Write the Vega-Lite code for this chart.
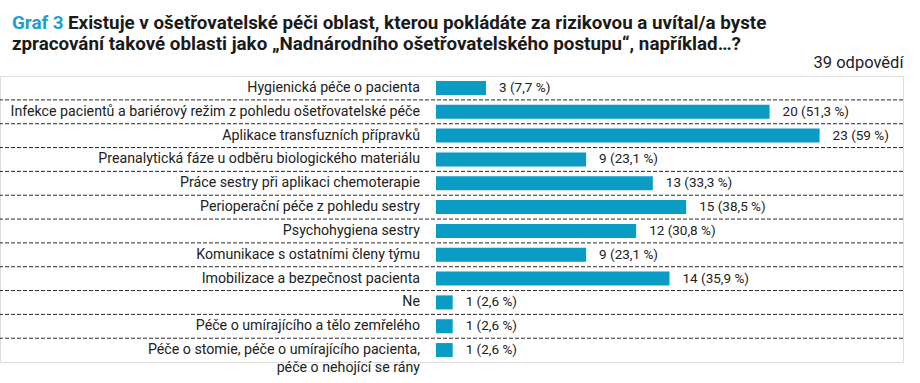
{
  "$schema": "https://vega.github.io/schema/vega-lite/v6.json",
  "autosize": "none",
  "width": 903,
  "height": 286,
  "padding": {"left": 0, "top": 76, "right": 17, "bottom": 21},
  "background": "white",
  "title": {
    "text": ["\u200b\u00a0\u00a0\u00a0\u00a0\u00a0\u00a0\u00a0\u00a0\u00a0\u00a0\u00a0\u00a0Existuje v ošetřovatelské péči oblast, kterou pokládáte za rizikovou a uvítal/a byste", "zpracování takové oblasti jako „Nadnárodního ošetřovatelského postupu“, například…?"],
    "subtitle": "Graf 3",
    "anchor": "start",
    "frame": "group",
    "dx": 12,
    "offset": 0,
    "font": "Roboto",
    "fontSize": 18.8,
    "fontWeight": "bold",
    "color": "#1a1a1a",
    "lineHeight": 21.5,
    "subtitleFont": "Roboto",
    "subtitleFontSize": 18.8,
    "subtitleFontWeight": "bold",
    "subtitleColor": "#1ba1c8",
    "subtitlePadding": -40
  },
  "data": {
    "values": [
      {"id": 1, "kategorie": "Hygienická péče o pacienta", "pokracovani": "", "pocet": 3, "popisek": "3 (7,7 %)"},
      {"id": 2, "kategorie": "Infekce pacientů a bariérový režim z pohledu ošetřovatelské péče", "pokracovani": "", "pocet": 20, "popisek": "20 (51,3 %)"},
      {"id": 3, "kategorie": "Aplikace transfuzních přípravků", "pokracovani": "", "pocet": 23, "popisek": "23 (59 %)"},
      {"id": 4, "kategorie": "Preanalytická fáze u odběru biologického materiálu", "pokracovani": "", "pocet": 9, "popisek": "9 (23,1 %)"},
      {"id": 5, "kategorie": "Práce sestry při aplikaci chemoterapie", "pokracovani": "", "pocet": 13, "popisek": "13 (33,3 %)"},
      {"id": 6, "kategorie": "Perioperační péče z pohledu sestry", "pokracovani": "", "pocet": 15, "popisek": "15 (38,5 %)"},
      {"id": 7, "kategorie": "Psychohygiena sestry", "pokracovani": "", "pocet": 12, "popisek": "12 (30,8 %)"},
      {"id": 8, "kategorie": "Komunikace s ostatními členy týmu", "pokracovani": "", "pocet": 9, "popisek": "9 (23,1 %)"},
      {"id": 9, "kategorie": "Imobilizace a bezpečnost pacienta", "pokracovani": "", "pocet": 14, "popisek": "14 (35,9 %)"},
      {"id": 10, "kategorie": "Ne", "pokracovani": "", "pocet": 1, "popisek": "1 (2,6 %)"},
      {"id": 11, "kategorie": "Péče o umírajícího a tělo zemřelého", "pokracovani": "", "pocet": 1, "popisek": "1 (2,6 %)"},
      {"id": 12, "kategorie": "Péče o stomie, péče o umírajícího pacienta,", "pokracovani": "péče o nehojící se rány", "pocet": 1, "popisek": "1 (2,6 %)"}
    ]
  },
  "encoding": {
    "y": {
      "field": "id",
      "type": "ordinal",
      "sort": "ascending",
      "scale": {"paddingInner": 0.41, "paddingOuter": 0.205},
      "axis": null
    }
  },
  "layer": [
    {
      "transform": [{"filter": "datum.id < 12"}],
      "mark": {"type": "rule", "color": "#2b2b2b", "strokeWidth": 1, "strokeDash": [4, 2]},
      "encoding": {
        "yOffset": {"value": 19}
      }
    },
    {
      "mark": {"type": "bar", "color": "#0a9cc2"},
      "encoding": {
        "x": {
          "field": "pocet",
          "type": "quantitative",
          "scale": {"domain": [0, 28], "range": [436, 903], "nice": false},
          "axis": {
            "orient": "top",
            "title": "39 odpovědí",
            "titleAnchor": "end",
            "titleFont": "Roboto",
            "titleFontSize": 16.5,
            "titleFontWeight": "normal",
            "titleColor": "#222222",
            "titlePadding": 6,
            "labels": false,
            "ticks": false,
            "domain": false,
            "grid": false
          }
        }
      }
    },
    {
      "mark": {"type": "text", "align": "left", "baseline": "middle", "dx": 13, "font": "Roboto", "fontSize": 13.5, "color": "#222222"},
      "encoding": {
        "x": {"field": "pocet", "type": "quantitative"},
        "text": {"field": "popisek"}
      }
    },
    {
      "mark": {"type": "text", "align": "right", "baseline": "middle", "dx": -16, "font": "Roboto", "fontSize": 14.2, "color": "#222222"},
      "encoding": {
        "x": {"datum": 0},
        "text": {"field": "kategorie"}
      }
    },
    {
      "mark": {"type": "text", "align": "right", "baseline": "middle", "dx": -16, "dy": 18, "font": "Roboto", "fontSize": 14.2, "color": "#222222"},
      "encoding": {
        "x": {"datum": 0},
        "text": {"field": "pokracovani"}
      }
    }
  ]
}
